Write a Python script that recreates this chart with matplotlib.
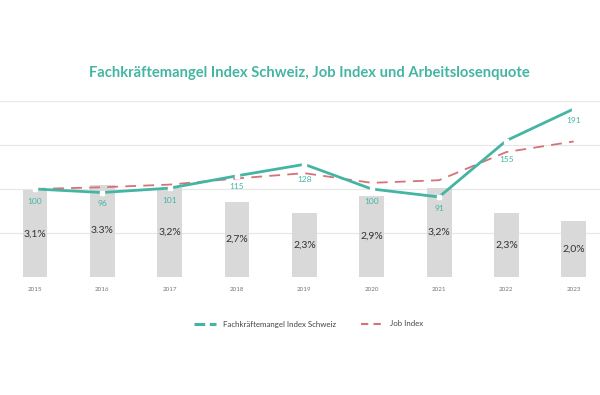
import matplotlib
matplotlib.use('Agg')
import matplotlib.pyplot as plt
import numpy as np

plt.rcParams['font.family'] = ['Lato', 'DejaVu Sans']

# data
years = ['2015', '2016', '2017', '2018', '2019', '2020', '2021', '2022', '2023']
fk_index = [100, 96, 101, 115, 128, 100, 91, 155, 191]
job_index = [100, 102, 105, 112, 118, 107, 110, 142, 154]
arbeitslos = [3.1, 3.3, 3.2, 2.7, 2.3, 2.9, 3.2, 2.3, 2.0]
arbeitslos_labels = ['3,1%', '3.3%', '3,2%', '2,7%', '2,3%', '2,9%', '3,2%', '2,3%', '2,0%']

# label offsets below the points (pixels)
label_drop = [12, 11, 12, 11, 15, 12, 12, 19, 12]

teal = '#45b5a3'
red = '#d5727a'
grid = '#e6e6e6'

fig = plt.figure(figsize=(6, 3.95), dpi=100)
ax_bar = fig.add_axes([0, 1 - 277 / 395, 1, 176 / 395])
ax = ax_bar.twinx()

x = np.arange(len(years))

# bars for unemployment rate
ax_bar.bar(x, arbeitslos, width=0.37, color='#d9d9d9', zorder=2)
for xi, v, lab in zip(x, arbeitslos, arbeitslos_labels):
    ax_bar.text(xi, v / 2, lab, ha='center', va='center', fontsize=7.5, color='#333333', zorder=3)
ax_bar.set_ylim(0, 6.3)
ax_bar.set_xlim(-0.52, 8.39)

# gridlines on the index scale
ax.set_ylim(0, 200)
for g in [0, 50, 100, 150, 200]:
    ax_bar.axhline(g * 6.3 / 200, color=grid, lw=0.8, zorder=1)

ax.plot(x, job_index, color=red, lw=1.3, dashes=(6, 4), zorder=4)
ax.plot(x, fk_index, color=teal, lw=2, zorder=5,
        marker='s', markersize=2.5, markerfacecolor='white', markeredgecolor='white')
for xi, v, d in zip(x, fk_index, label_drop):
    ax.annotate(str(v), (xi, v), xytext=(0, -d), textcoords='offset pixels',
                ha='center', va='center', fontsize=6, color=teal, zorder=6)

for a in (ax_bar, ax):
    for s in a.spines.values():
        s.set_visible(False)
    a.set_yticks([])
ax_bar.set_xticks(x)
ax_bar.set_xticklabels(years, fontsize=4.5, color='#777777')
ax_bar.tick_params(axis='x', length=0, pad=7)

fig.text(0.516, 1 - 73 / 395, 'Fachkräftemangel Index Schweiz, Job Index und Arbeitslosenquote',
         ha='center', va='center', fontsize=10.6, fontweight='bold', color=teal)

# legend
h1, = ax.plot([], [], color=teal, lw=2.2, dashes=(3.5, 1.5))
h2, = ax.plot([], [], color=red, lw=1.5, dashes=(3.5, 2.5))
fig.legend([h1, h2], ['Fachkräftemangel Index Schweiz', 'Job Index'],
           loc='center', bbox_to_anchor=(0.514, 1 - 324 / 395), ncol=2, frameon=False,
           fontsize=5.7, labelcolor='#444444', handlelength=2.8, columnspacing=3.2)

fig.savefig('out.png', dpi=100, facecolor='white')
